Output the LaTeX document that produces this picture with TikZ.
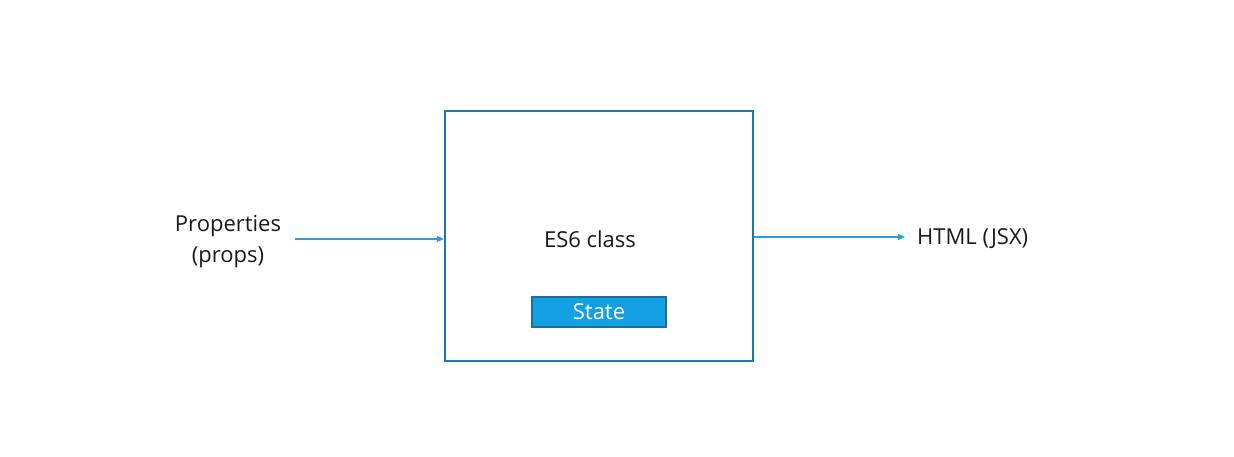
\documentclass[tikz,border=0pt]{standalone}
\usepackage{fontspec}
\setmainfont{Open Sans}
\usetikzlibrary{arrows.meta}
\definecolor{boxline}{HTML}{1B77AE}
\definecolor{arrowc}{HTML}{2A9FD8}
\definecolor{statefill}{HTML}{12A0E2}
\definecolor{stateline}{HTML}{1B6E9E}
\definecolor{txt}{HTML}{1A1A1A}
\begin{document}
\begin{tikzpicture}[x=1pt,y=-1pt,
  lbl/.style={font=\fontsize{22}{31}\selectfont, text=txt, inner sep=0pt, align=center},
  conn/.style={draw=arrowc, line width=1.3pt, -{Triangle[length=7pt,width=6pt]}}]
\useasboundingbox (0,0) rectangle (1234,457);
\fill[white] (0,0) rectangle (1234,457);
\node[draw=boxline, line width=2.2pt, minimum width=308pt, minimum height=250pt, inner sep=0pt] (cls) at (599,236) {};
\node[lbl] (es6) at (590,239) {ES6 class};
\node[draw=stateline, line width=1.2pt, fill=statefill, minimum width=134pt, minimum height=30pt, inner sep=0pt, text=white, font=\fontsize{22}{24}\selectfont] (state) at (599,312) {State};
\node[lbl] (props) at (228,242) {Properties\\(props)};
\node[lbl, anchor=west] (html) at (917,239) {HTML (JSX)};
\coordinate (pin) at (295,239);
\coordinate (pout) at (905,237);
\draw[conn] (pin) -- (cls.west |- pin);
\draw[conn] (cls.east |- pout) -- (pout);
\end{tikzpicture}
\end{document}
